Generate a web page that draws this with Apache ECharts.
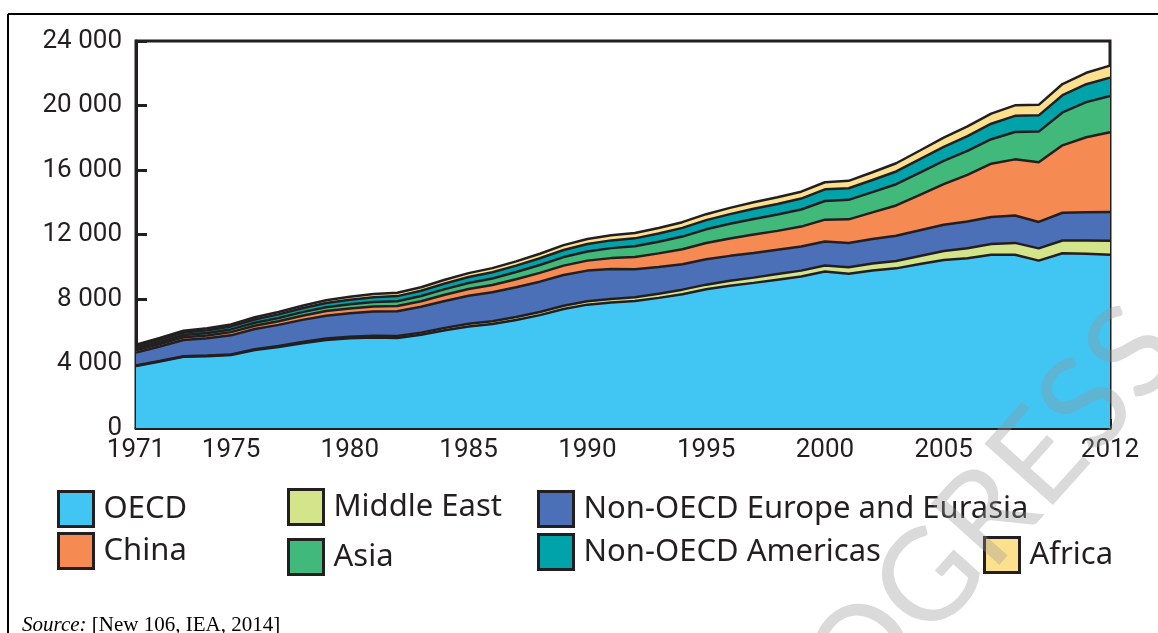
<!DOCTYPE html>
<html>
<head>
<meta charset="utf-8">
<script src="https://cdn.jsdelivr.net/npm/echarts@6/dist/echarts.min.js"></script>
<style>
  html, body { margin: 0; padding: 0; background: #fff; }
  #chart { width: 1158px; height: 633px; }
</style>
</head>
<body>
<div id="chart"></div>
<script>
(function() {
    var myChart = echarts.init(document.getElementById('chart'));

    // years on the x axis
    var years = ['1971', '1972', '1973', '1974', '1975', '1976', '1977', '1978', '1979', '1980',
        '1981', '1982', '1983', '1984', '1985', '1986', '1987', '1988', '1989', '1990',
        '1991', '1992', '1993', '1994', '1995', '1996', '1997', '1998', '1999', '2000',
        '2001', '2002', '2003', '2004', '2005', '2006', '2007', '2008', '2009', '2010',
        '2011', '2012'];
    // years that get a label
    var labelYears = ['1971', '1975', '1980', '1985', '1990', '1995', '2000', '2005', '2012'];

    // electricity generation by region, TWh
    var oecd = [3850, 4120, 4420, 4450, 4520, 4830, 5020, 5260, 5460, 5560,
        5620, 5580, 5780, 6060, 6300, 6450, 6700, 7000, 7380, 7650,
        7790, 7870, 8070, 8300, 8600, 8820, 9000, 9200, 9400, 9700,
        9570, 9770, 9900, 10170, 10420, 10530, 10740, 10740, 10380, 10840,
        10800, 10740];
    var middleEast = [25, 30, 35, 40, 45, 55, 65, 75, 85, 95,
        105, 120, 135, 150, 165, 175, 185, 195, 205, 210,
        215, 240, 260, 280, 290, 305, 325, 345, 360, 380,
        400, 430, 460, 500, 560, 620, 670, 740, 760, 790,
        830, 880];
    var europeEurasia = [800, 900, 1000, 1080, 1180, 1250, 1310, 1370, 1420, 1460,
        1500, 1540, 1600, 1670, 1740, 1790, 1840, 1880, 1900, 1900,
        1850, 1740, 1660, 1580, 1570, 1550, 1530, 1510, 1490, 1490,
        1500, 1520, 1560, 1590, 1620, 1650, 1680, 1700, 1640, 1720,
        1750, 1770];
    var china = [145, 160, 170, 170, 200, 205, 225, 260, 285, 300,
        310, 330, 350, 380, 410, 450, 500, 545, 585, 620,
        680, 750, 840, 930, 1010, 1080, 1140, 1170, 1240, 1350,
        1470, 1650, 1880, 2200, 2520, 2900, 3300, 3480, 3700, 4180,
        4650, 4950];
    var asia = [120, 130, 145, 155, 170, 185, 200, 220, 240, 255,
        275, 295, 320, 350, 380, 410, 445, 485, 530, 570,
        620, 670, 720, 780, 850, 910, 970, 1010, 1060, 1160,
        1210, 1260, 1320, 1380, 1440, 1480, 1520, 1700, 1900, 2040,
        2180, 2250];
    var americas = [130, 140, 155, 170, 185, 205, 225, 245, 265, 290,
        300, 315, 330, 350, 370, 385, 400, 420, 440, 460,
        480, 490, 510, 540, 570, 600, 630, 660, 680, 720,
        720, 750, 790, 830, 880, 920, 960, 1000, 1010, 1070,
        1110, 1140];
    var africa = [90, 100, 110, 115, 125, 135, 145, 155, 170, 185,
        195, 205, 215, 230, 240, 255, 265, 280, 300, 315,
        320, 330, 340, 355, 370, 385, 400, 410, 425, 440,
        460, 480, 510, 540, 570, 600, 630, 650, 650, 690,
        710, 740];

    var names = ['OECD', 'Middle East', 'Non-OECD Europe and Eurasia', 'China', 'Asia', 'Non-OECD Americas', 'Africa'];
    var values = [oecd, middleEast, europeEurasia, china, asia, americas, africa];
    var colors = ['#41c6f4', '#d4e48b', '#4b70b8', '#f58b52', '#40b97b', '#00a3aa', '#fde08e'];

    var ink = '#231f20';
    var tickFont = "'Roboto', sans-serif";
    var legendFont = "'Noto Sans', 'Lato', sans-serif";

    var series = [];
    // filled bands
    for (var i = 0; i < names.length; i++) {
        series.push({
            name: names[i],
            type: 'line',
            stack: 'area',
            data: values[i],
            showSymbol: false,
            symbol: 'none',
            silent: true,
            lineStyle: { width: 0 },
            itemStyle: { color: colors[i] },
            areaStyle: { color: colors[i], opacity: 1 },
            z: 2
        });
    }
    // black outlines drawn on top of all the bands
    for (var j = 0; j < names.length; j++) {
        series.push({
            name: names[j] + ' line',
            type: 'line',
            stack: 'outline',
            data: values[j],
            showSymbol: false,
            symbol: 'none',
            silent: true,
            lineStyle: { color: ink, width: 2.5 },
            itemStyle: { color: ink },
            z: 3
        });
    }

    // legend placement (top-left of the swatch), one legend per item
    var legendPos = [
        [57, 490], [287, 488], [537, 490],
        [57, 532], [287, 538], [537, 533], [983, 536]
    ];
    var legends = [];
    for (var k = 0; k < names.length; k++) {
        legends.push({
            data: [names[k]],
            left: legendPos[k][0],
            top: legendPos[k][1],
            padding: 0,
            orient: 'horizontal',
            icon: 'rect',
            itemWidth: 35,
            itemHeight: 35,
            selectedMode: false,
            itemStyle: { borderColor: ink, borderWidth: 3 },
            lineStyle: { opacity: 0 },
            textStyle: { color: ink, fontSize: 31, fontFamily: legendFont, padding: [2, 0, 0, 5] }
        });
    }

    var option = {
        animation: false,
        backgroundColor: '#fff',
        legend: legends,
        grid: {
            left: 136,
            right: 48,
            top: 41,
            bottom: 205,
            show: true,
            borderColor: ink,
            borderWidth: 3,
            containLabel: false
        },
        xAxis: {
            type: 'category',
            data: years,
            boundaryGap: false,
            axisLine: { lineStyle: { color: ink, width: 3 } },
            axisTick: { show: true, inside: true, length: 9, interval: 0, lineStyle: { color: ink, width: 3 } },
            axisLabel: {
                interval: function(index, value) {
                    return labelYears.indexOf(value) >= 0;
                },
                color: ink,
                fontSize: 26,
                fontFamily: tickFont,
                margin: 9
            },
            splitLine: { show: false }
        },
        yAxis: {
            type: 'value',
            min: 0,
            max: 24000,
            interval: 4000,
            axisLine: { show: true, lineStyle: { color: ink, width: 3 } },
            axisTick: { show: true, inside: true, length: 11, lineStyle: { color: ink, width: 3 } },
            axisLabel: {
                color: ink,
                fontSize: 26,
                fontFamily: tickFont,
                margin: 14,
                formatter: function(v) {
                    return String(v).replace(/\B(?=(\d{3})+(?!\d))/g, ' ');
                }
            },
            splitLine: { show: false }
        },
        graphic: [
            // page frame
            { type: 'line', shape: { x1: 8, y1: 14, x2: 1158, y2: 14 }, style: { stroke: '#000', lineWidth: 2 } },
            { type: 'line', shape: { x1: 8, y1: 14, x2: 8, y2: 633 }, style: { stroke: '#000', lineWidth: 2 } },
            // watermark
            {
                type: 'text',
                x: 941,
                y: 568,
                rotation: 0.84,
                z: 100,
                silent: true,
                style: {
                    text: 'PROGRESS',
                    font: "400 128px Lato, 'Noto Sans', sans-serif",
                    fill: 'rgba(150,150,150,0.35)',
                    align: 'center',
                    verticalAlign: 'middle'
                }
            },
            // source line
            {
                type: 'text',
                left: 22,
                top: 615,
                style: {
                    text: '{i|Source:} [New 106, IEA, 2014]',
                    font: "21px 'Liberation Serif', serif",
                    fill: '#000',
                    rich: {
                        i: { fontStyle: 'italic', fontFamily: "'Liberation Serif', serif", fontSize: 21 }
                    }
                }
            }
        ],
        series: series
    };

    myChart.setOption(option);
})();
</script>
</body>
</html>
